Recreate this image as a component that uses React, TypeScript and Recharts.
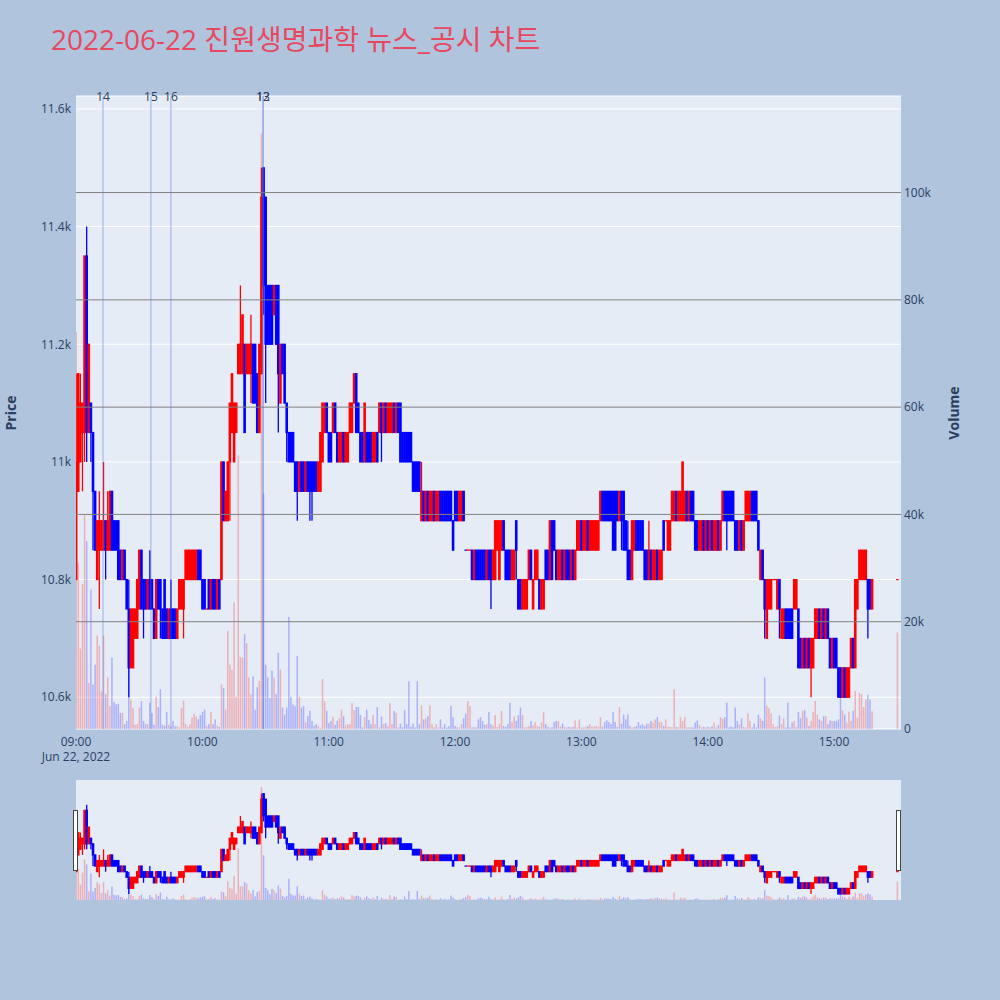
import React from "react";
import { ComposedChart, Bar, XAxis, YAxis, CartesianGrid, ReferenceLine } from "recharts";

// 2022-06-22 1-minute candles, 09:00 .. 15:18, then the 15:30 closing auction
const opens = [
  10800, 10950, 11000, 11050, 11050, 11350, 11050, 11100, 11050, 10950,
  10800, 10850, 10850, 10850, 10900, 10850, 10850, 10950, 10900, 10900,
  10900, 10850, 10800, 10850, 10800, 10750, 10650, 10650, 10700, 10700,
  10750, 10850, 10800, 10800, 10750, 10800, 10800, 10750, 10700, 10800,
  10800, 10750, 10800, 10750, 10700, 10750, 10750, 10750, 10700, 10750,
  10750, 10750, 10800, 10800, 10800, 10800, 10800, 10800, 10850, 10850,
  10800, 10800, 10750, 10800, 10750, 10800, 10800, 10750, 10800, 10800,
  11000, 10900, 10900, 11000, 11050, 11000, 11050, 11150, 11150, 11150,
  11200, 11150, 11150, 11150, 11200, 11200, 11150, 11050, 11150, 11500,
  11450, 11300, 11300, 11300, 11250, 11300, 11300, 11100, 11200, 11200,
  11100, 11050, 11050, 11050, 11000, 11000, 10950, 11000, 11000, 10950,
  11000, 11000, 11000, 11000, 11000, 10950, 10950, 11000, 11050, 11100,
  11050, 11050, 11050, 11100, 11050, 11000, 11000, 11050, 11000, 11000,
  11050, 11050, 11100, 11150, 11100, 11050, 11050, 11000, 11050, 11050,
  11050, 11000, 11000, 11050, 11050, 11100, 11050, 11100, 11050, 11050,
  11050, 11100, 11050, 11100, 11100, 11050, 11050, 11050, 11050, 11050,
  11000, 11000, 11000, 11000, 10900, 10950, 10900, 10950, 10900, 10900,
  10950, 10900, 10900, 10950, 10950, 10950, 10950, 10950, 10950, 10900,
  10950, 10950, 10900, 10900, 10950, 10850, 10850, 10850, 10850, 10800,
  10850, 10850, 10850, 10850, 10850, 10800, 10850, 10850, 10800, 10800,
  10850, 10800, 10850, 10900, 10850, 10850, 10850, 10800, 10800, 10900,
  10800, 10800, 10750, 10750, 10750, 10800, 10850, 10750, 10800, 10800,
  10800, 10750, 10750, 10850, 10850, 10800, 10900, 10900, 10850, 10800,
  10800, 10850, 10800, 10850, 10850, 10800, 10850, 10800, 10850, 10850,
  10900, 10850, 10850, 10900, 10850, 10850, 10850, 10850, 10850, 10900,
  10950, 10950, 10950, 10950, 10950, 10950, 10950, 10950, 10900, 10950,
  10950, 10900, 10850, 10850, 10800, 10850, 10900, 10900, 10900, 10900,
  10850, 10850, 10800, 10850, 10800, 10800, 10850, 10800, 10800, 10900,
  10900, 10850, 10850, 10900, 10900, 10950, 10900, 10900, 10900, 10900,
  10950, 10900, 10950, 10950, 10900, 10900, 10850, 10850, 10900, 10850,
  10900, 10850, 10900, 10850, 10850, 10900, 10850, 10900, 10950, 10950,
  10950, 10950, 10950, 10900, 10900, 10850, 10900, 10850, 10900, 10900,
  10900, 10950, 10950, 10950, 10900, 10800, 10850, 10800, 10700, 10750,
  10750, 10800, 10800, 10750, 10800, 10700, 10700, 10750, 10750, 10750,
  10750, 10750, 10750, 10750, 10700, 10650, 10700, 10650, 10700, 10650,
  10650, 10700, 10700, 10750, 10700, 10750, 10700, 10750, 10700, 10650,
  10700, 10700, 10650, 10650, 10600, 10650, 10600, 10600, 10650, 10700,
  10650, 10750, 10800, 10800, 10800, 10800, 10800, 10800, 10750, 10800,
];

const highs = [
  11150, 11150, 11150, 11100, 11350, 11400, 11200, 11100, 11050, 10950,
  10900, 10950, 10900, 11000, 10900, 10950, 10950, 10950, 10900, 10900,
  10900, 10850, 10850, 10850, 10800, 10800, 10750, 10750, 10750, 10800,
  10850, 10850, 10800, 10800, 10800, 10850, 10800, 10750, 10800, 10800,
  10800, 10750, 10800, 10750, 10750, 10800, 10750, 10750, 10750, 10800,
  10800, 10800, 10850, 10850, 10850, 10850, 10850, 10850, 10850, 10850,
  10800, 10800, 10750, 10800, 10800, 10800, 10800, 10800, 10800, 11000,
  11000, 10950, 11000, 11100, 11150, 11100, 11100, 11200, 11300, 11250,
  11200, 11200, 11200, 11250, 11200, 11200, 11150, 11200, 11500, 11500,
  11450, 11300, 11300, 11300, 11300, 11300, 11300, 11200, 11200, 11200,
  11100, 11050, 11050, 11050, 11000, 11000, 11000, 11000, 11000, 11000,
  11000, 11000, 11000, 11000, 11000, 11000, 11050, 11100, 11100, 11100,
  11050, 11050, 11100, 11100, 11050, 11050, 11050, 11050, 11050, 11050,
  11100, 11100, 11150, 11150, 11100, 11050, 11050, 11100, 11050, 11050,
  11050, 11050, 11050, 11050, 11100, 11100, 11100, 11100, 11100, 11100,
  11100, 11100, 11100, 11100, 11100, 11050, 11050, 11050, 11050, 11050,
  11000, 11000, 11000, 11000, 11000, 10950, 10950, 10950, 10950, 10950,
  10950, 10950, 10950, 10950, 10950, 10950, 10950, 10950, 10950, 10900,
  10950, 10950, 10950, 10950, 10950, 10850, 10850, 10850, 10850, 10850,
  10850, 10850, 10850, 10850, 10850, 10850, 10850, 10850, 10850, 10900,
  10900, 10900, 10900, 10900, 10850, 10850, 10850, 10850, 10850, 10900,
  10800, 10800, 10800, 10800, 10800, 10850, 10850, 10800, 10850, 10850,
  10800, 10800, 10800, 10850, 10850, 10900, 10900, 10900, 10850, 10850,
  10850, 10850, 10850, 10850, 10850, 10850, 10850, 10850, 10900, 10900,
  10900, 10900, 10900, 10900, 10900, 10900, 10900, 10900, 10900, 10950,
  10950, 10950, 10950, 10950, 10950, 10950, 10950, 10950, 10950, 10950,
  10950, 10900, 10900, 10850, 10900, 10900, 10900, 10900, 10900, 10900,
  10850, 10850, 10900, 10850, 10850, 10850, 10850, 10850, 10850, 10900,
  10900, 10900, 10900, 10950, 10950, 10950, 10950, 10950, 11000, 10950,
  10950, 10950, 10950, 10950, 10900, 10900, 10900, 10900, 10900, 10900,
  10900, 10900, 10900, 10900, 10900, 10900, 10900, 10950, 10950, 10950,
  10950, 10950, 10950, 10900, 10900, 10900, 10900, 10900, 10950, 10950,
  10950, 10950, 10950, 10950, 10900, 10850, 10850, 10800, 10800, 10800,
  10800, 10800, 10800, 10800, 10800, 10750, 10750, 10750, 10750, 10750,
  10750, 10800, 10800, 10750, 10700, 10700, 10700, 10700, 10700, 10700,
  10700, 10750, 10750, 10750, 10750, 10750, 10750, 10750, 10700, 10700,
  10700, 10700, 10650, 10650, 10650, 10650, 10650, 10650, 10700, 10700,
  10800, 10800, 10850, 10850, 10850, 10850, 10800, 10800, 10800, 10800,
];

const lows = [
  10800, 10950, 11000, 10950, 11000, 11000, 11050, 11000, 10850, 10850,
  10800, 10750, 10850, 10850, 10800, 10850, 10850, 10850, 10850, 10850,
  10800, 10800, 10800, 10800, 10750, 10600, 10650, 10650, 10700, 10700,
  10750, 10750, 10700, 10750, 10750, 10750, 10750, 10700, 10700, 10750,
  10700, 10700, 10700, 10700, 10700, 10700, 10700, 10700, 10700, 10750,
  10750, 10700, 10800, 10800, 10800, 10800, 10800, 10800, 10800, 10800,
  10750, 10750, 10750, 10750, 10750, 10750, 10750, 10750, 10750, 10800,
  10900, 10900, 10900, 10900, 11050, 11000, 11050, 11150, 11150, 11150,
  11050, 11150, 11150, 11100, 11100, 11100, 11050, 11050, 11150, 11250,
  11100, 11200, 11200, 11200, 11250, 11200, 11050, 11100, 11150, 11100,
  11000, 11000, 11000, 11000, 10950, 10900, 10950, 10950, 10950, 10950,
  10950, 10900, 10900, 10950, 10950, 10950, 10950, 11000, 11050, 11050,
  11000, 11000, 11050, 11050, 11000, 11000, 11000, 11000, 11000, 11000,
  11050, 11050, 11100, 11050, 11050, 11000, 11000, 11000, 11000, 11000,
  11000, 11000, 11000, 11000, 11050, 11000, 11050, 11050, 11050, 11050,
  11050, 11050, 11050, 11050, 11000, 11000, 11000, 11000, 11000, 11000,
  10950, 10950, 10950, 10950, 10900, 10900, 10900, 10900, 10900, 10900,
  10900, 10900, 10900, 10900, 10900, 10900, 10900, 10900, 10900, 10850,
  10900, 10900, 10900, 10900, 10900, 10850, 10850, 10850, 10800, 10800,
  10800, 10800, 10800, 10800, 10800, 10800, 10800, 10750, 10800, 10800,
  10850, 10800, 10850, 10850, 10800, 10800, 10800, 10800, 10800, 10800,
  10750, 10750, 10750, 10750, 10750, 10800, 10800, 10750, 10800, 10800,
  10750, 10750, 10750, 10800, 10800, 10800, 10800, 10850, 10800, 10800,
  10800, 10800, 10800, 10800, 10800, 10800, 10800, 10800, 10850, 10850,
  10850, 10850, 10850, 10850, 10850, 10850, 10850, 10850, 10850, 10900,
  10900, 10900, 10900, 10900, 10900, 10850, 10850, 10900, 10900, 10850,
  10850, 10850, 10800, 10800, 10800, 10850, 10850, 10850, 10850, 10850,
  10800, 10800, 10800, 10800, 10800, 10800, 10800, 10800, 10800, 10850,
  10900, 10850, 10850, 10900, 10900, 10900, 10900, 10900, 10900, 10900,
  10900, 10900, 10900, 10900, 10850, 10850, 10850, 10850, 10850, 10850,
  10850, 10850, 10850, 10850, 10850, 10850, 10850, 10900, 10900, 10850,
  10900, 10900, 10900, 10850, 10850, 10850, 10850, 10850, 10900, 10900,
  10900, 10900, 10900, 10900, 10850, 10800, 10800, 10700, 10700, 10750,
  10750, 10800, 10800, 10750, 10700, 10700, 10700, 10700, 10700, 10700,
  10700, 10750, 10750, 10650, 10650, 10650, 10650, 10650, 10650, 10600,
  10650, 10700, 10700, 10700, 10700, 10700, 10700, 10700, 10650, 10650,
  10650, 10650, 10600, 10600, 10600, 10600, 10600, 10600, 10650, 10650,
  10650, 10750, 10800, 10800, 10800, 10800, 10700, 10750, 10750, 10800,
];

const closes = [
  11000, 11150, 11100, 11100, 11350, 11050, 11200, 11050, 10950, 10850,
  10900, 10900, 10900, 10900, 10850, 10900, 10950, 10850, 10850, 10850,
  10800, 10800, 10850, 10800, 10750, 10650, 10750, 10750, 10750, 10800,
  10850, 10750, 10750, 10750, 10800, 10750, 10750, 10700, 10800, 10750,
  10750, 10700, 10700, 10700, 10750, 10700, 10700, 10700, 10750, 10800,
  10800, 10800, 10850, 10850, 10850, 10850, 10850, 10850, 10800, 10800,
  10750, 10750, 10750, 10750, 10800, 10750, 10750, 10800, 10750, 11000,
  10900, 10950, 11000, 11100, 11150, 11100, 11100, 11200, 11200, 11250,
  11050, 11200, 11200, 11200, 11100, 11100, 11050, 11200, 11450, 11300,
  11200, 11200, 11200, 11200, 11300, 11200, 11150, 11200, 11150, 11100,
  11050, 11000, 11000, 11000, 10950, 10950, 11000, 10950, 10950, 11000,
  10950, 10950, 10950, 10950, 10950, 11000, 11050, 11100, 11100, 11050,
  11000, 11000, 11100, 11050, 11000, 11050, 11050, 11000, 11050, 11050,
  11100, 11100, 11150, 11050, 11050, 11000, 11000, 11100, 11000, 11000,
  11000, 11050, 11050, 11000, 11100, 11050, 11100, 11050, 11100, 11100,
  11100, 11050, 11100, 11050, 11000, 11000, 11000, 11000, 11000, 11000,
  10950, 10950, 10950, 10950, 10950, 10900, 10950, 10900, 10950, 10950,
  10900, 10950, 10950, 10900, 10900, 10900, 10900, 10900, 10900, 10850,
  10900, 10900, 10950, 10950, 10900, 10850, 10850, 10850, 10800, 10850,
  10800, 10800, 10800, 10800, 10800, 10850, 10800, 10800, 10850, 10900,
  10900, 10900, 10900, 10850, 10800, 10800, 10800, 10850, 10850, 10850,
  10750, 10750, 10800, 10800, 10800, 10850, 10800, 10800, 10850, 10850,
  10750, 10800, 10800, 10800, 10800, 10900, 10800, 10850, 10800, 10850,
  10850, 10800, 10850, 10800, 10800, 10850, 10800, 10850, 10900, 10900,
  10850, 10900, 10900, 10850, 10900, 10900, 10900, 10900, 10900, 10950,
  10900, 10900, 10900, 10900, 10900, 10850, 10850, 10900, 10950, 10900,
  10850, 10850, 10800, 10800, 10900, 10900, 10850, 10850, 10850, 10850,
  10800, 10800, 10850, 10800, 10850, 10850, 10800, 10850, 10850, 10850,
  10900, 10900, 10900, 10950, 10950, 10900, 10950, 10950, 11000, 10950,
  10900, 10950, 10900, 10900, 10850, 10850, 10900, 10900, 10850, 10900,
  10850, 10900, 10850, 10900, 10900, 10850, 10900, 10950, 10900, 10900,
  10900, 10900, 10900, 10850, 10850, 10900, 10850, 10900, 10950, 10950,
  10950, 10900, 10900, 10900, 10850, 10850, 10800, 10750, 10800, 10800,
  10800, 10800, 10800, 10800, 10750, 10750, 10750, 10700, 10700, 10700,
  10700, 10800, 10800, 10650, 10650, 10700, 10650, 10700, 10650, 10700,
  10700, 10750, 10750, 10700, 10750, 10700, 10750, 10700, 10650, 10700,
  10650, 10650, 10600, 10600, 10650, 10600, 10650, 10650, 10700, 10650,
  10800, 10800, 10850, 10850, 10850, 10850, 10750, 10750, 10800, 10800,
];

const volumes = [
  74000, 31000, 15000, 27000, 40000, 35000, 8600, 26000, 8300, 12000,
  17400, 15500, 7000, 17400, 6500, 9600, 4300, 13300, 5000, 4600,
  4700, 3000, 3000, 900, 1500, 12700, 5500, 3900, 800, 900,
  4000, 5200, 1500, 900, 900, 4900, 3000, 800, 6000, 4100,
  7400, 800, 600, 3200, 800, 500, 1500, 500, 500, 300,
  3900, 5300, 900, 400, 800, 2100, 2800, 2300, 1800, 2600,
  3200, 3600, 600, 900, 3200, 900, 1800, 600, 400, 8300,
  7600, 3600, 18300, 12000, 11000, 23600, 6000, 51000, 13400, 13300,
  17700, 16000, 9600, 6500, 9800, 3600, 7800, 9000, 111000, 44000,
  12000, 9600, 5800, 10900, 9600, 6500, 14200, 11100, 4000, 2700,
  4000, 20900, 6000, 4600, 4300, 13600, 6000, 4000, 4300, 1300,
  2400, 3400, 1500, 600, 900, 600, 250, 9300, 5200, 3400,
  1100, 1500, 2300, 800, 1500, 2000, 3600, 2400, 700, 900,
  900, 4800, 3500, 4100, 4100, 2600, 300, 2200, 3600, 1700,
  900, 2600, 900, 4100, 300, 2300, 900, 1100, 550, 4800,
  900, 3400, 3000, 300, 1000, 300, 3500, 900, 8900, 400,
  1000, 300, 8900, 900, 4400, 1800, 2000, 2400, 4400, 900,
  300, 900, 300, 1800, 300, 900, 300, 500, 4300, 2200,
  550, 300, 300, 900, 2000, 2900, 5200, 4300, 300, 400,
  300, 1800, 2200, 1500, 800, 900, 3200, 900, 600, 2600,
  400, 900, 3400, 550, 400, 900, 4900, 1300, 2400, 1500,
  2600, 4000, 2600, 300, 400, 550, 1500, 700, 1300, 550,
  400, 1200, 3100, 900, 400, 300, 300, 1300, 1500, 1500,
  500, 1000, 400, 300, 400, 300, 400, 1600, 300, 1800,
  300, 300, 400, 550, 900, 400, 500, 550, 400, 2200,
  400, 1300, 1600, 1300, 900, 3200, 1300, 400, 4100, 1000,
  2700, 1800, 2700, 550, 300, 400, 550, 1300, 700, 900,
  550, 1000, 1000, 1500, 1200, 1800, 2200, 1300, 1300, 550,
  1800, 400, 400, 300, 7400, 400, 400, 2200, 1500, 2200,
  300, 300, 300, 300, 1200, 1600, 700, 300, 400, 300,
  400, 300, 500, 1200, 300, 700, 2200, 1900, 2200, 4900,
  300, 500, 300, 4000, 1500, 900, 2000, 400, 300, 2900,
  1500, 300, 1000, 300, 2700, 2000, 1500, 9600, 4300, 3900,
  2900, 900, 400, 550, 2500, 900, 2000, 300, 4900, 300,
  1200, 1500, 400, 3200, 2000, 3400, 3500, 2100, 550, 1500,
  3200, 5200, 2700, 1800, 1500, 2400, 2400, 900, 1600, 1500,
  1500, 1500, 1800, 6900, 3500, 2700, 1200, 3200, 1500, 3400,
  7100, 2100, 6700, 6500, 4100, 5500, 6400, 5500, 3300, 18000,
];

// news / disclosure markers
const newsLabels = ["12", "13", "14", "15", "16"];
const newsTimes = ["10:28:50", "10:28:50", "09:12:50", "09:35:35", "09:45:05"];

const hourLabels = ["09:00", "10:00", "11:00", "12:00", "13:00", "14:00", "15:00"];
const priceTicks = [10600, 10800, 11000, 11200, 11400, 11600];
const volumeTicks = [0, 20000, 40000, 60000, 80000, 100000];
const closingAuction = "15:30";

const FONT = "'Open Sans', 'Noto Sans CJK KR', 'DejaVu Sans', sans-serif";
const INK = "#2a3f5f";
const UP = "#ff0000";
const DOWN = "#0000ff";
const X_DOMAIN = [0, 391.8];
const PRICE_DOMAIN = [10546, 11622];
const VOLUME_DOMAIN = [0, 118000];

function toMinute(t: string) {
  const [h, m, s] = t.split(":").map(Number);
  return (h - 9) * 60 + m + (s || 0) / 60;
}

const rows = opens.map((open, i) => {
  const close = closes[i];
  const prev = i > 0 ? closes[i - 1] : open;
  return {
    t: i === opens.length - 1 ? toMinute(closingAuction) : i,
    open,
    high: highs[i],
    low: lows[i],
    close,
    volume: volumes[i],
    range: [lows[i], highs[i]],
    up: close > open || (close === open && close >= prev),
  };
});

const Candle = (props: any) => {
  const { x, y, width, height } = props;
  const d = props.payload || props;
  if (x == null || y == null) return null;
  const color = d.up ? UP : DOWN;
  const cx = x + width / 2;
  const top0 = Math.min(y, y + height);
  const h = Math.abs(height);
  const span = d.high - d.low;
  const at = (p: number) => (span === 0 ? top0 : top0 + ((d.high - p) / span) * h);
  const bTop = at(Math.max(d.open, d.close));
  const bBot = at(Math.min(d.open, d.close));
  return (
    <g>
      <line x1={cx} x2={cx} y1={top0} y2={top0 + h} stroke={color} strokeWidth={1.3} />
      <rect x={cx - 1.3} y={bTop - 0.6} width={2.6} height={Math.max(bBot - bTop, 0) + 1.2} fill={color} />
    </g>
  );
};

const VolumeBar = (props: any) => {
  const { x, y, width, height } = props;
  const d = props.payload || props;
  if (x == null || y == null) return null;
  const cx = x + width / 2;
  return (
    <rect
      x={cx - 0.75}
      y={Math.min(y, y + height)}
      width={1.5}
      height={Math.abs(height)}
      fill={d.up ? UP : DOWN}
      fillOpacity={0.25}
    />
  );
};

const TimeTick = (props: any) => {
  const { x, y, payload } = props;
  const label = hourLabels[Math.round(payload.value / 60)];
  return (
    <text x={x} y={y} textAnchor="middle" fontSize={12} fill={INK}>
      <tspan x={x} dy="0.71em">{label}</tspan>
      {payload.value === 0 && (
        <tspan x={x} dy="1.25em">Jun 22, 2022</tspan>
      )}
    </text>
  );
};

const newsLabel = (text: string) => (props: any) => {
  const vb = props.viewBox || {};
  return (
    <text x={vb.x} y={(vb.y || 0) + 5} textAnchor="middle" fontSize={12} fill={INK}>
      {text}
    </text>
  );
};

const priceFmt = (v: number) => `${+(v / 1000).toFixed(1)}k`;
const volFmt = (v: number) => (v === 0 ? "0" : `${v / 1000}k`);

export default function App() {
  return (
    <div
      style={{
        position: "absolute",
        left: 0,
        top: 0,
        width: 1000,
        height: 1000,
        background: "#b0c4de",
        fontFamily: FONT,
        overflow: "hidden",
      }}
    >
      <div style={{ position: "absolute", left: 0, top: 0 }}>
        <ComposedChart width={1000} height={770} data={rows} margin={{ top: 96, right: 0, bottom: 0, left: 0 }}>
          <CartesianGrid xAxisId="p" yAxisId="price" vertical={false} stroke="#ffffff" fill="#e5ecf6" fillOpacity={1} />
          <XAxis
            xAxisId="p"
            type="number"
            dataKey="t"
            domain={X_DOMAIN}
            ticks={hourLabels.map(toMinute)}
            tick={<TimeTick />}
            axisLine={false}
            tickLine={false}
            tickSize={0}
            tickMargin={8}
            height={41}
            allowDataOverflow
          />
          <XAxis xAxisId="v" type="number" dataKey="t" domain={X_DOMAIN} hide allowDataOverflow />
          <YAxis
            yAxisId="price"
            orientation="left"
            domain={PRICE_DOMAIN}
            ticks={priceTicks}
            tickFormatter={priceFmt}
            width={76}
            axisLine={false}
            tickLine={false}
            tickSize={0}
            tickMargin={5}
            tick={{ fontSize: 12, fill: INK }}
            allowDataOverflow
          />
          <YAxis
            yAxisId="vol"
            orientation="right"
            domain={VOLUME_DOMAIN}
            ticks={volumeTicks}
            tickFormatter={volFmt}
            width={99}
            axisLine={false}
            tickLine={false}
            tickSize={0}
            tickMargin={3}
            tick={{ fontSize: 12, fill: INK, textAnchor: "start" }}
            allowDataOverflow
          />
          {volumeTicks
            .filter((v) => v > 0)
            .map((v) => (
              <ReferenceLine key={v} xAxisId="p" yAxisId="vol" y={v} stroke="#808080" strokeWidth={1} />
            ))}
          <Bar xAxisId="v" yAxisId="vol" dataKey="volume" shape={<VolumeBar />} isAnimationActive={false} />
          <Bar xAxisId="p" yAxisId="price" dataKey="range" shape={<Candle />} isAnimationActive={false} />
          {newsTimes.map((t, i) => (
            <ReferenceLine
              key={i}
              xAxisId="p"
              yAxisId="price"
              x={toMinute(t)}
              stroke="#4f74e0"
              strokeOpacity={0.5}
              strokeWidth={1}
              label={newsLabel(newsLabels[i])}
            />
          ))}
        </ComposedChart>
      </div>

      {/* range slider */}
      <div style={{ position: "absolute", left: 76, top: 780, width: 825, height: 120, background: "#e5ecf6" }} />
      <div style={{ position: "absolute", left: 0, top: 780 }}>
        <ComposedChart width={1000} height={120} data={rows} margin={{ top: 0, right: 99, bottom: 0, left: 76 }}>
          <XAxis xAxisId="p" type="number" dataKey="t" domain={X_DOMAIN} hide allowDataOverflow />
          <XAxis xAxisId="v" type="number" dataKey="t" domain={X_DOMAIN} hide allowDataOverflow />
          <YAxis yAxisId="price" domain={PRICE_DOMAIN} hide allowDataOverflow />
          <YAxis yAxisId="vol" domain={VOLUME_DOMAIN} hide allowDataOverflow />
          <Bar xAxisId="v" yAxisId="vol" dataKey="volume" shape={<VolumeBar />} isAnimationActive={false} />
          <Bar xAxisId="p" yAxisId="price" dataKey="range" shape={<Candle />} isAnimationActive={false} />
        </ComposedChart>
      </div>
      <div style={{ position: "absolute", left: 73, top: 810, width: 3, height: 59, background: "#fff", border: "1px solid #444" }} />
      <div style={{ position: "absolute", left: 896, top: 810, width: 3, height: 59, background: "#fff", border: "1px solid #444" }} />

      <svg width={1000} height={1000} style={{ position: "absolute", left: 0, top: 0, pointerEvents: "none" }}>
        <text x={51} y={50} fontSize={28} fill="#e8485e" fontFamily={FONT}>
          2022-06-22 진원생명과학 뉴스_공시 차트
        </text>
        <text
          x={10}
          y={413}
          fontSize={14}
          fontWeight="bold"
          fill={INK}
          textAnchor="middle"
          dominantBaseline="central"
          transform="rotate(-90 10 413)"
        >
          Price
        </text>
        <text
          x={953}
          y={413}
          fontSize={14}
          fontWeight="bold"
          fill={INK}
          textAnchor="middle"
          dominantBaseline="central"
          transform="rotate(-90 953 413)"
        >
          Volume
        </text>
      </svg>
    </div>
  );
}
